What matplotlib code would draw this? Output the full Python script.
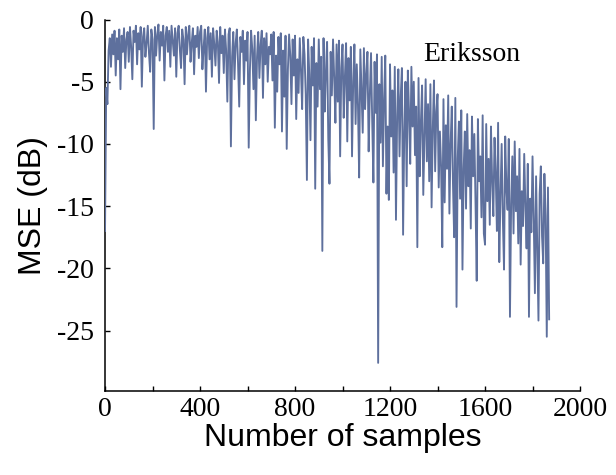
import matplotlib
matplotlib.use("Agg")
import matplotlib.pyplot as plt
import numpy as np

plt.rcParams["axes.unicode_minus"] = False

# ── Data: MSE (dB), one value every 5 samples ────────────────────────────────
SAMPLE_STEP = 5
mse_db = [
    # 0 - 95
    -17.0, -5.5, -6.8, -2.5, -1.5, -3.8, -1.2, -2.8, -0.9, -4.5,
    -1.5, -3.2, -0.8, -5.6, -1.3, -2.6, -0.7, -3.9, -1.6, -1.0,
    # 100 - 195
    -3.4, -0.6, -2.2, -4.8, -0.9, -1.8, -0.5, -3.6, -1.1, -2.4,
    -0.6, -5.4, -1.4, -0.7, -3.0, -1.9, -0.5, -2.7, -4.2, -0.8,
    # 200 - 295
    -1.6, -8.8, -0.6, -2.9, -1.2, -0.4, -3.3, -1.0, -2.1, -0.5,
    -4.9, -1.3, -0.6, -2.6, -0.9, -3.8, -0.5, -1.7, -2.9, -0.7,
    # 300 - 395
    -4.6, -1.1, -0.5, -2.4, -3.9, -0.8, -1.6, -5.2, -0.6, -2.8,
    -1.2, -0.5, -3.4, -1.9, -0.7, -4.4, -1.3, -2.2, -0.6, -3.1,
    # 400 - 495
    -1.0, -0.5, -4.0, -2.3, -0.8, -5.8, -1.5, -0.6, -3.2, -1.1,
    -4.6, -0.7, -2.0, -3.7, -0.9, -1.8, -5.1, -0.6, -2.7, -1.3,
    # 500 - 595
    -4.3, -0.8, -2.5, -6.6, -1.2, -0.7, -10.2, -3.0, -1.0, -4.8,
    -1.9, -0.8, -3.5, -7.0, -1.4, -2.6, -0.9, -5.2, -1.7, -3.3,
    # 600 - 695
    -1.0, -10.3, -4.1, -0.9, -2.4, -5.6, -1.3, -8.1, -3.0, -1.0,
    -4.7, -2.0, -0.9, -6.3, -1.5, -3.6, -1.1, -5.0, -2.2, -2.8,
    # 700 - 795
    -1.2, -4.9, -1.0, -8.7, -2.9, -5.8, -1.4, -3.6, -1.1, -9.0,
    -2.5, -6.2, -1.3, -10.4, -4.0, -1.2, -2.9, -6.8, -1.6, -4.5,
    # 800 - 895
    -1.3, -8.0, -3.2, -5.9, -1.5, -4.1, -7.2, -1.4, -2.8, -6.0,
    -12.9, -1.6, -4.4, -9.7, -2.2, -5.3, -1.5, -13.6, -3.5, -7.0,
    # 900 - 995
    -1.6, -5.6, -3.0, -18.6, -1.5, -7.4, -4.2, -1.8, -9.6, -13.2,
    -2.6, -6.1, -1.6, -4.7, -8.3, -2.0, -6.6, -1.7, -11.0, -3.9,
    # 1000 - 1095
    -2.0, -7.9, -4.6, -1.9, -9.8, -3.1, -6.5, -2.2, -11.0, -5.0,
    -2.0, -8.4, -3.6, -6.9, -12.7, -2.4, -5.7, -9.1, -2.3, -7.2,
    # 1100 - 1195
    -4.4, -2.6, -10.6, -6.0, -2.7, -8.2, -13.1, -3.4, -7.5, -2.8,
    -27.6, -5.2, -9.9, -3.0, -11.8, -6.4, -2.9, -14.0, -8.6, -14.5,
    # 1200 - 1295
    -3.6, -9.4, -5.7, -12.3, -3.8, -16.1, -7.8, -4.0, -11.0, -6.2,
    -3.9, -17.3, -9.0, -5.0, -13.4, -4.1, -7.4, -11.6, -3.8, -8.6,
    # 1300 - 1395
    -5.0, -10.9, -7.0, -18.3, -4.7, -12.6, -8.2, -5.3, -14.1, -9.5,
    -4.8, -11.4, -6.8, -13.0, -5.2, -15.1, -8.8, -4.9, -12.2, -7.4,
    # 1400 - 1495
    -6.0, -13.5, -9.0, -11.8, -18.3, -6.4, -14.7, -8.5, -12.0, -6.1,
    -15.6, -10.0, -7.0, -13.2, -17.5, -6.3, -23.1, -11.2, -8.2, -14.4,
    # 1500 - 1595
    -7.3, -20.1, -12.0, -9.0, -15.2, -7.6, -13.4, -10.5, -16.8, -7.8,
    -12.6, -9.2, -14.8, -21.0, -8.0, -13.0, -11.0, -15.9, -7.7, -17.2,
    # 1600 - 1695
    -18.1, -8.4, -14.6, -11.2, -16.5, -8.6, -13.0, -15.8, -9.5, -12.4,
    -17.0, -8.3, -19.5, -14.2, -10.0, -16.0, -20.1, -9.4, -13.6, -15.3,
    # 1700 - 1795
    -9.6, -23.9, -14.8, -11.0, -17.2, -9.8, -15.4, -12.6, -18.0, -10.4,
    -19.7, -13.8, -16.6, -10.8, -15.0, -18.4, -11.6, -23.9, -14.4, -17.1,
    # 1800 - 1870
    -11.0, -16.0, -22.0, -12.6, -18.2, -24.2, -14.0, -11.8, -17.4, -19.6,
    -12.4, -15.8, -25.5, -13.5, -24.1,
]
samples = np.arange(len(mse_db)) * SAMPLE_STEP

x_ticks = [0, 400, 800, 1200, 1600, 2000]
x_minor = [200, 600, 1000, 1400, 1800]
y_ticks = [0, -5, -10, -15, -20, -25]

# ── Style ─────────────────────────────────────────────────────────────────────
LINE = "#5E709D"
TEXT = "#000000"
SERIF = "Liberation Serif"
SANS = "Liberation Sans"

fig = plt.figure(figsize=(6.16, 4.75), dpi=100, facecolor="white")
ax = fig.add_axes([0.1705, 0.1758, 0.7711, 0.7831])

ax.plot(samples, mse_db, color=LINE, lw=1.35, zorder=3)

ax.set_xlim(0, 2000)
ax.set_ylim(-29.9, 0)
ax.set_xticks(x_ticks)
ax.set_xticks(x_minor, minor=True)
ax.set_yticks(y_ticks)
ax.set_xticklabels([str(v) for v in x_ticks], family=SERIF, fontsize=20)
ax.set_yticklabels([str(v) for v in y_ticks], family=SERIF, fontsize=20)

for sp in ["top", "right"]:
    ax.spines[sp].set_visible(False)
for sp in ["bottom", "left"]:
    ax.spines[sp].set_linewidth(1.1)
    ax.spines[sp].set_color(TEXT)

ax.tick_params(axis="both", which="both", direction="in", length=3.6,
               width=1.0, colors=TEXT)
ax.tick_params(axis="x", which="major", pad=4)
ax.tick_params(axis="y", which="major", pad=8)

ax.set_xlabel("Number of samples", family=SANS, fontsize=23, color=TEXT, labelpad=1)
ax.set_ylabel("MSE (dB)", family=SANS, fontsize=23, color=TEXT)
ax.yaxis.set_label_coords(-0.12, 0.5)

ax.text(0.669, 0.889, "Eriksson", transform=ax.transAxes, family=SERIF,
        fontsize=20, color=TEXT, ha="left", va="baseline")

fig.savefig("out.png", dpi=100, facecolor="white")
